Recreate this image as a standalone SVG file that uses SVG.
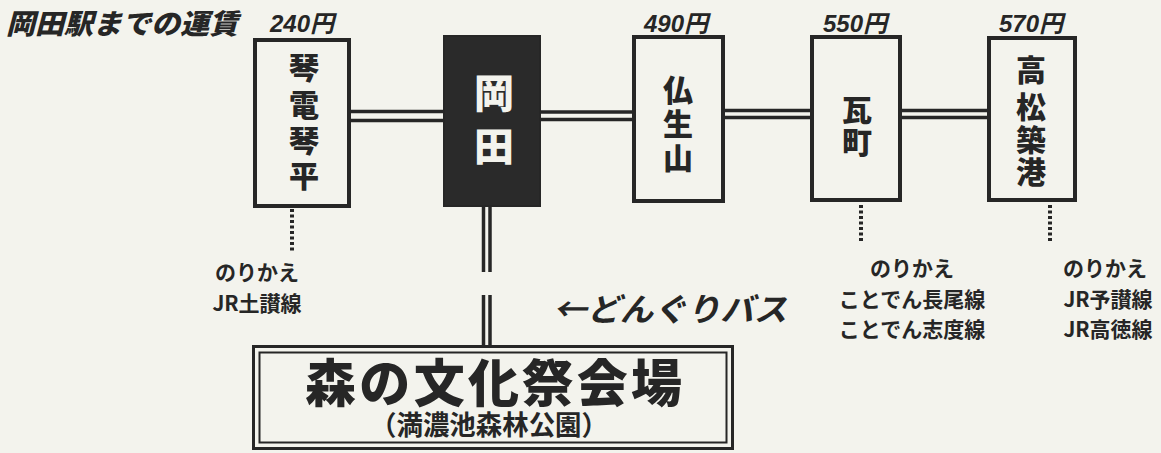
<svg xmlns="http://www.w3.org/2000/svg" width="1161" height="453" viewBox="0 0 1161 453">
  <style>
    .bg { fill: #f3f3ed; }
    .box { fill: none; stroke: #262626; stroke-width: 4; }
    .dark { fill: #2a2a2a; stroke: #262626; stroke-width: 2; }
    .st { font-family: "Noto Sans CJK JP", sans-serif; font-weight: 900; font-size: 30px; fill: #262626; text-anchor: middle; }
    .st-big { font-family: "Noto Sans CJK JP", sans-serif; font-weight: 900; font-size: 40px; fill: #f3f3ed; text-anchor: middle; }
    .price { font-family: "Liberation Sans", "Noto Sans CJK JP", sans-serif; font-weight: bold; font-style: italic; font-size: 24px; fill: #262626; text-anchor: middle; }
    .note { font-family: "Noto Sans CJK JP", sans-serif; font-weight: bold; font-size: 21px; fill: #262626; text-anchor: middle; }
    .rail { stroke: #262626; stroke-width: 3.5; fill: none; }
    .dots { stroke: #262626; stroke-width: 4; stroke-dasharray: 3 2.5; fill: none; }
  </style>
  <rect class="bg" x="0" y="0" width="1161" height="453"/>

  <text id="title" x="6" y="34" font-family="Noto Sans CJK JP, sans-serif" font-weight="900" font-style="italic" font-size="28" fill="#262626" textLength="232" lengthAdjust="spacingAndGlyphs">岡田駅までの運賃</text>

  <g id="connectors">
    <line class="rail" x1="351" y1="111.5" x2="443" y2="111.5"/>
    <line class="rail" x1="351" y1="120.5" x2="443" y2="120.5"/>
    <line class="rail" x1="541" y1="112" x2="632" y2="112"/>
    <line class="rail" x1="541" y1="119.5" x2="632" y2="119.5"/>
    <line class="rail" x1="725" y1="110.5" x2="810" y2="110.5"/>
    <line class="rail" x1="725" y1="117.5" x2="810" y2="117.5"/>
    <line class="rail" x1="902" y1="110.5" x2="987" y2="110.5"/>
    <line class="rail" x1="902" y1="117.5" x2="987" y2="117.5"/>
    <line class="rail" x1="483.5" y1="207" x2="483.5" y2="272"/>
    <line class="rail" x1="490" y1="207" x2="490" y2="272"/>
    <line class="rail" x1="483.5" y1="295" x2="483.5" y2="346"/>
    <line class="rail" x1="490" y1="295" x2="490" y2="346"/>
    <line class="dots" x1="292" y1="209" x2="292" y2="252"/>
    <line class="dots" x1="861" y1="205" x2="861" y2="243"/>
    <line class="dots" x1="1050" y1="205" x2="1050" y2="241"/>
  </g>

  <g id="kotoden-kotohira">
    <text class="price" x="302" y="32">240円</text>
    <rect class="box" x="255" y="40" width="94" height="166"/>
    <text class="st" x="304"><tspan x="304" y="79">琴</tspan><tspan x="304" y="115.5">電</tspan><tspan x="304" y="151.5">琴</tspan><tspan x="304" y="186.5">平</tspan></text>
    <text class="note" x="257" y="280">のりかえ</text>
    <text class="note" x="257" y="311">JR土讃線</text>
  </g>

  <g id="okada">
    <rect class="dark" x="444" y="36" width="96" height="170"/>
    <text class="st-big" x="494"><tspan x="494" y="108">岡</tspan><tspan x="494" y="161">田</tspan></text>
  </g>

  <g id="busshozan">
    <text class="price" x="676" y="32">490円</text>
    <rect class="box" x="634" y="37" width="89" height="164"/>
    <text class="st" x="678"><tspan x="678" y="101">仏</tspan><tspan x="678" y="135">生</tspan><tspan x="678" y="169">山</tspan></text>
  </g>

  <g id="kawaramachi">
    <text class="price" x="855" y="32">550円</text>
    <rect class="box" x="812" y="37" width="88" height="163"/>
    <text class="st" x="857"><tspan x="857" y="120.5">瓦</tspan><tspan x="857" y="153">町</tspan></text>
    <text class="note" x="912" y="276">のりかえ</text>
    <text class="note" x="912" y="307">ことでん長尾線</text>
    <text class="note" x="912" y="337">ことでん志度線</text>
  </g>

  <g id="takamatsu-chikko">
    <text class="price" x="1031" y="32">570円</text>
    <rect class="box" x="989" y="38" width="86" height="162"/>
    <text class="st" x="1031"><tspan x="1031" y="80.5">高</tspan><tspan x="1031" y="118">松</tspan><tspan x="1031" y="151">築</tspan><tspan x="1031" y="183">港</tspan></text>
    <text class="note" x="1105" y="276">のりかえ</text>
    <text class="note" x="1108" y="307">JR予讃線</text>
    <text class="note" x="1108" y="337">JR高徳線</text>
  </g>

  <g id="bus-label">
    <text x="553" y="321" font-family="Noto Sans CJK JP, sans-serif" font-weight="bold" font-style="italic" font-size="32" fill="#262626" textLength="234" lengthAdjust="spacingAndGlyphs">←どんぐりバス</text>
  </g>

  <g id="venue">
    <rect x="253.5" y="346.5" width="479" height="102" fill="none" stroke="#262626" stroke-width="3"/>
    <rect x="259.5" y="352.5" width="467" height="90" fill="none" stroke="#262626" stroke-width="2"/>
    <text x="305" y="402" font-family="Noto Sans CJK JP, sans-serif" font-weight="900" font-size="51" fill="#262626" textLength="377">森の文化祭会場</text>
    <text x="370" y="435" font-family="Noto Sans CJK JP, sans-serif" font-weight="bold" font-size="27" fill="#262626" textLength="238" lengthAdjust="spacingAndGlyphs">（満濃池森林公園）</text>
  </g>
</svg>
